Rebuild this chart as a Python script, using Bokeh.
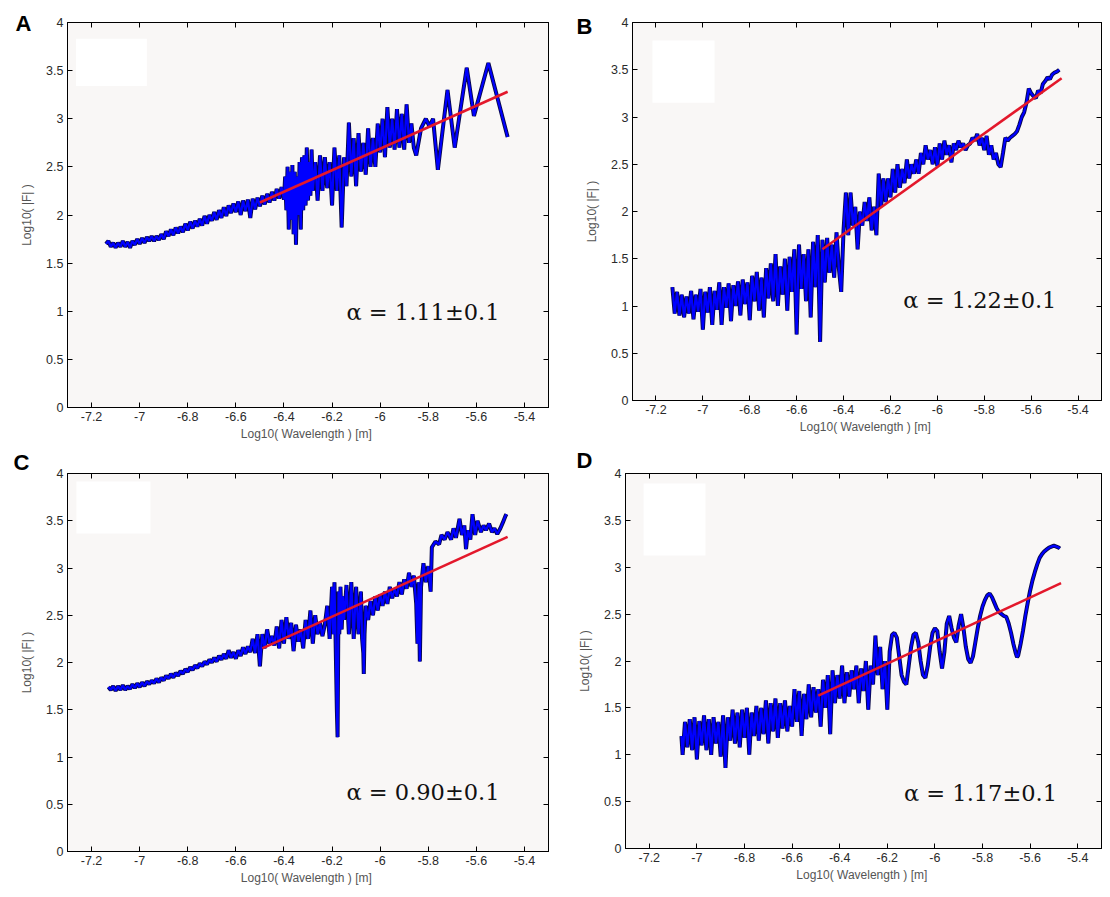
from bokeh.plotting import figure
from bokeh.layouts import column, row
from bokeh.models import FixedTicker, LinearAxis, Label, Range1d, Title, BoxAnnotation
from bokeh.embed import file_html
from bokeh.resources import INLINE

# ---------------- tick labels / texts ----------------
x_ticks = [-7.2, -7.0, -6.8, -6.6, -6.4, -6.2, -6.0, -5.8, -5.6, -5.4]
x_tick_labels = ["-7.2", "-7", "-6.8", "-6.6", "-6.4", "-6.2", "-6", "-5.8", "-5.6", "-5.4"]
y_ticks = [0, 0.5, 1, 1.5, 2, 2.5, 3, 3.5, 4]
y_tick_labels = ["0", "0.5", "1", "1.5", "2", "2.5", "3", "3.5", "4"]
panel_letters = ["A", "B", "C", "D"]
alpha_texts = ["\u03b1 = 1.11\u00b10.1", "\u03b1 = 1.22\u00b10.1", "\u03b1 = 0.90\u00b10.1", "\u03b1 = 1.17\u00b10.1"]
x_label = "Log10( Wavelength )  [m]"
y_label = "Log10( |F| )"

# ---------------- panel A ----------------
a_x = [-7.14, -7.13, -7.12, -7.11, -7.10, -7.09, -7.08, -7.07, -7.06, -7.05,
       -7.04, -7.03, -7.02, -7.01, -7.00, -6.99, -6.98, -6.97, -6.96, -6.95,
       -6.94, -6.93, -6.92, -6.91, -6.90, -6.89, -6.88, -6.87, -6.86, -6.85,
       -6.84, -6.83, -6.82, -6.81, -6.80, -6.79, -6.78, -6.77, -6.76, -6.75,
       -6.74, -6.73, -6.72, -6.71, -6.70, -6.69, -6.68, -6.67, -6.66, -6.65,
       -6.64, -6.63, -6.62, -6.61, -6.60, -6.59, -6.58, -6.57, -6.56, -6.55,
       -6.54, -6.53, -6.52, -6.51, -6.50, -6.49, -6.48, -6.47, -6.46, -6.45,
       -6.44, -6.43, -6.42, -6.41, -6.40,
       -6.395, -6.39, -6.385, -6.38, -6.375, -6.37, -6.365, -6.36, -6.355, -6.35,
       -6.345, -6.34, -6.335, -6.33, -6.325, -6.32, -6.315, -6.31, -6.305, -6.30,
       -6.295, -6.29, -6.285, -6.28,
       -6.27, -6.26, -6.25, -6.24, -6.23, -6.22, -6.21, -6.20, -6.19, -6.18,
       -6.17, -6.16, -6.15, -6.14, -6.13, -6.12, -6.11, -6.10, -6.09, -6.08,
       -6.07, -6.06, -6.05, -6.04, -6.03, -6.02, -6.01, -6.00,
       -5.99, -5.98, -5.97, -5.96, -5.95, -5.94, -5.93, -5.92, -5.91, -5.90,
       -5.89, -5.88, -5.87, -5.86,
       -5.85, -5.83, -5.81, -5.795, -5.78, -5.76, -5.72, -5.69, -5.64, -5.61,
       -5.55, -5.47]
a_y = [1.70, 1.73, 1.67, 1.71, 1.66, 1.71, 1.67, 1.73, 1.67, 1.72,
       1.66, 1.73, 1.69, 1.75, 1.70, 1.76, 1.71, 1.77, 1.73, 1.78,
       1.73, 1.78, 1.74, 1.80, 1.75, 1.83, 1.78, 1.85, 1.79, 1.87,
       1.81, 1.88, 1.82, 1.91, 1.84, 1.93, 1.86, 1.94, 1.88, 1.96,
       1.89, 1.99, 1.91, 2.00, 1.94, 2.03, 1.95, 2.05, 1.97, 2.08,
       1.99, 2.10, 2.02, 2.12, 2.03, 2.14, 2.00, 2.15, 2.04, 2.16,
       1.97, 2.17, 2.06, 2.18, 2.09, 2.20, 2.11, 2.22, 2.13, 2.24,
       2.15, 2.27, 2.17, 2.29, 2.16,
       2.40, 2.05, 2.50, 1.85, 2.45, 1.95, 2.52, 1.80, 2.45, 1.69,
       2.40, 2.00, 2.55, 1.85, 2.60, 2.05, 2.62, 2.10, 2.70, 2.15,
       2.55, 2.20, 2.68, 2.25,
       2.55, 2.15, 2.62, 2.25, 2.60, 2.28, 2.55, 2.10, 2.70, 2.25,
       2.62, 1.87, 2.60, 2.30, 2.96, 2.40, 2.80, 2.30, 2.85, 2.45,
       2.75, 2.42, 2.90, 2.50, 2.80, 2.50, 2.95, 2.65,
       3.00, 2.60, 3.12, 2.70, 3.00, 2.68, 3.10, 2.70, 3.05, 2.68,
       3.15, 2.75, 2.95, 2.70,
       2.62, 2.90, 3.00, 2.92, 3.00, 2.47, 3.30, 2.70, 3.53, 3.03,
       3.58, 2.81]
fit_a_x = [-6.50, -5.47]
fit_a_y = [2.13, 3.28]

# ---------------- panel B ----------------
b_x = [-7.13, -7.12, -7.11, -7.10, -7.09, -7.08, -7.07, -7.06, -7.05, -7.04,
       -7.03, -7.02, -7.01, -7.00, -6.99, -6.98, -6.97, -6.96, -6.95, -6.94,
       -6.93, -6.92, -6.91, -6.90, -6.89, -6.88, -6.87, -6.86, -6.85, -6.84,
       -6.83, -6.82, -6.81, -6.80, -6.79, -6.78, -6.77, -6.76, -6.75, -6.74,
       -6.73, -6.72, -6.71, -6.70, -6.69, -6.68, -6.67, -6.66, -6.65, -6.64,
       -6.63, -6.62, -6.61, -6.60, -6.59, -6.58, -6.57, -6.56, -6.55, -6.54,
       -6.53, -6.52, -6.51, -6.50,
       -6.49, -6.48, -6.47, -6.46, -6.45, -6.44, -6.43, -6.42, -6.41, -6.40,
       -6.39, -6.38, -6.37, -6.36, -6.35, -6.34, -6.33, -6.32, -6.31, -6.30,
       -6.29, -6.28, -6.27, -6.26, -6.25, -6.24, -6.23, -6.22, -6.21, -6.20,
       -6.19, -6.18, -6.17, -6.16, -6.15, -6.14, -6.13, -6.12, -6.11, -6.10,
       -6.09, -6.08, -6.07, -6.06, -6.05, -6.04, -6.03, -6.02, -6.01, -6.00,
       -5.99, -5.98, -5.97, -5.96, -5.95, -5.94, -5.93, -5.92, -5.91, -5.90,
       -5.89, -5.88, -5.87, -5.86, -5.85, -5.84, -5.83, -5.82, -5.81, -5.80,
       -5.79, -5.78, -5.77, -5.76, -5.75, -5.74, -5.73, -5.72, -5.71, -5.70,
       -5.69, -5.68, -5.67, -5.66, -5.65, -5.64, -5.63, -5.62, -5.61, -5.60,
       -5.59, -5.58, -5.57, -5.56, -5.55, -5.54, -5.53, -5.52, -5.51, -5.50,
       -5.49, -5.48]
b_y = [1.20, 0.92, 1.15, 0.90, 1.12, 0.88, 1.10, 0.92, 1.16, 0.86,
       1.12, 0.94, 1.18, 0.75, 1.15, 0.93, 1.20, 0.80, 1.16, 0.96,
       1.25, 0.80, 1.20, 0.98, 1.24, 0.84, 1.22, 1.00, 1.26, 0.90,
       1.28, 1.02, 1.25, 0.85, 1.32, 1.05, 1.36, 0.95, 1.30, 0.88,
       1.40, 1.08, 1.45, 1.05, 1.55, 1.00, 1.42, 1.12, 1.50, 0.95,
       1.52, 1.15, 1.60, 0.70, 1.65, 1.18, 1.55, 1.05, 1.60, 0.88,
       1.68, 1.20, 1.75, 0.62,
       1.70, 1.25, 1.72, 1.35, 1.65, 1.30, 1.78, 1.40, 1.15, 1.80,
       2.20, 1.75, 2.20, 1.85, 2.05, 1.60, 2.00, 1.85, 2.10, 1.90,
       2.15, 1.80, 2.05, 1.75, 2.40, 2.05, 2.35, 2.10, 2.35, 2.15,
       2.45, 2.20, 2.50, 2.25, 2.45, 2.30, 2.55, 2.35, 2.50, 2.40,
       2.55, 2.40, 2.62, 2.50, 2.70, 2.55, 2.65, 2.50, 2.68, 2.48,
       2.72, 2.55, 2.75, 2.60, 2.70, 2.52, 2.72, 2.65, 2.75, 2.68,
       2.72, 2.65, 2.70, 2.72, 2.78, 2.75, 2.82, 2.70, 2.78, 2.65,
       2.80, 2.60, 2.70, 2.55, 2.62, 2.50, 2.47, 2.62, 2.78, 2.75,
       2.78, 2.80, 2.82, 2.85, 2.92, 3.00, 3.05, 3.15, 3.30, 3.25,
       3.22, 3.20, 3.28, 3.25, 3.35, 3.38, 3.42, 3.40, 3.45, 3.47,
       3.48, 3.50]
fit_b_x = [-6.49, -5.47]
fit_b_y = [1.60, 3.41]

# ---------------- panel C ----------------
c_x = [-7.13, -7.12, -7.11, -7.10, -7.09, -7.08, -7.07, -7.06, -7.05, -7.04,
       -7.03, -7.02, -7.01, -7.00, -6.99, -6.98, -6.97, -6.96, -6.95, -6.94,
       -6.93, -6.92, -6.91, -6.90, -6.89, -6.88, -6.87, -6.86, -6.85, -6.84,
       -6.83, -6.82, -6.81, -6.80, -6.79, -6.78, -6.77, -6.76, -6.75, -6.74,
       -6.73, -6.72, -6.71, -6.70, -6.69, -6.68, -6.67, -6.66, -6.65, -6.64,
       -6.63, -6.62, -6.61, -6.60, -6.59, -6.58, -6.57, -6.56, -6.55, -6.54,
       -6.53, -6.52, -6.51, -6.50,
       -6.49, -6.48, -6.47, -6.46, -6.45, -6.44, -6.43, -6.42, -6.41, -6.40,
       -6.39, -6.38, -6.37, -6.36, -6.35, -6.34, -6.33, -6.32, -6.31, -6.30,
       -6.29, -6.28, -6.27, -6.26, -6.25, -6.24,
       -6.23, -6.22, -6.21, -6.20, -6.195, -6.19, -6.185, -6.18, -6.177, -6.173,
       -6.17, -6.165, -6.16, -6.155, -6.15, -6.14, -6.13, -6.12, -6.11, -6.10,
       -6.09, -6.08, -6.075, -6.07, -6.068, -6.065, -6.06, -6.05, -6.04, -6.03,
       -6.02, -6.01, -6.00, -5.99, -5.98, -5.97, -5.96, -5.95, -5.94, -5.93,
       -5.92, -5.91, -5.90, -5.89, -5.88, -5.87, -5.86, -5.85, -5.845, -5.84,
       -5.835, -5.83, -5.82, -5.81, -5.80, -5.79,
       -5.785, -5.77, -5.755, -5.745, -5.732, -5.72, -5.705, -5.695, -5.685, -5.67,
       -5.66, -5.65, -5.643, -5.635, -5.625, -5.616, -5.605, -5.595, -5.581, -5.57,
       -5.56, -5.547, -5.535, -5.525, -5.513, -5.50, -5.49, -5.479, -5.475]
c_y = [1.74, 1.71, 1.75, 1.70, 1.75, 1.71, 1.76, 1.71, 1.75, 1.72,
       1.77, 1.73, 1.78, 1.74, 1.79, 1.75, 1.80, 1.77, 1.81, 1.78,
       1.83, 1.79, 1.84, 1.81, 1.86, 1.83, 1.88, 1.84, 1.89, 1.86,
       1.91, 1.88, 1.93, 1.90, 1.95, 1.92, 1.97, 1.94, 1.99, 1.96,
       2.01, 1.98, 2.03, 2.00, 2.05, 2.01, 2.07, 2.03, 2.09, 2.04,
       2.13, 2.05, 2.11, 2.04, 2.13, 2.07, 2.16, 2.09, 2.17, 2.11,
       2.25, 2.10, 2.30, 1.96,
       2.30, 2.15, 2.35, 2.20, 2.28, 2.18, 2.38, 2.15, 2.45, 2.20,
       2.48, 2.25, 2.42, 2.12, 2.40, 2.22, 2.35, 2.15, 2.45, 2.25,
       2.55, 2.20, 2.50, 2.30, 2.42, 2.28,
       2.40, 2.60, 2.25, 2.80, 2.30, 2.85, 2.20, 1.50, 1.21, 2.75,
       2.30, 2.80, 2.35, 2.70, 2.45, 2.82, 2.30, 2.85, 2.25, 2.80,
       2.30, 2.75, 2.25, 2.10, 1.88, 2.30, 2.60, 2.45, 2.65, 2.50,
       2.70, 2.55, 2.72, 2.60, 2.75, 2.62, 2.80, 2.68, 2.78, 2.70,
       2.85, 2.72, 2.88, 2.78, 2.95, 2.80, 2.92, 2.62, 2.20, 2.85,
       2.01, 2.80, 3.05, 2.85, 3.02, 2.75,
       3.22, 3.28, 3.25, 3.35, 3.30, 3.38, 3.30, 3.42, 3.32, 3.52,
       3.35, 3.45, 3.20, 3.40, 3.30, 3.57, 3.35, 3.50, 3.38, 3.45,
       3.40, 3.47, 3.38, 3.42, 3.36, 3.42, 3.48, 3.55, 3.57]
fit_c_x = [-6.49, -5.47]
fit_c_y = [2.15, 3.33]

# ---------------- panel D ----------------
d_x = [-7.065,
       -7.06, -7.05, -7.04, -7.03, -7.02, -7.01, -7.00, -6.99, -6.98, -6.97,
       -6.96, -6.95, -6.94, -6.93, -6.92, -6.91, -6.90, -6.89, -6.88, -6.87,
       -6.86, -6.85, -6.84, -6.83, -6.82, -6.81, -6.80, -6.79, -6.78, -6.77,
       -6.76, -6.75, -6.74, -6.73, -6.72, -6.71, -6.70, -6.69, -6.68, -6.67,
       -6.66, -6.65, -6.64, -6.63, -6.62, -6.61, -6.60, -6.59, -6.58, -6.57,
       -6.56, -6.55, -6.54, -6.53, -6.52, -6.51, -6.50,
       -6.49, -6.48, -6.47, -6.46, -6.45, -6.44, -6.43, -6.42, -6.41, -6.40,
       -6.39, -6.38, -6.37, -6.36, -6.35, -6.34, -6.33, -6.32, -6.31, -6.30,
       -6.29, -6.28, -6.27, -6.26,
       -6.25, -6.24, -6.23, -6.22, -6.21, -6.20, -6.19, -6.18, -6.17, -6.16,
       -6.15, -6.14, -6.13, -6.12, -6.11, -6.10, -6.09, -6.08, -6.07, -6.06,
       -6.05, -6.04, -6.03, -6.02, -6.01, -6.00, -5.99, -5.98, -5.97, -5.96,
       -5.95, -5.94, -5.93, -5.92, -5.91, -5.90, -5.89, -5.88, -5.87, -5.86,
       -5.85, -5.84, -5.83, -5.82, -5.81, -5.80, -5.79, -5.78, -5.77, -5.76,
       -5.75, -5.74, -5.73, -5.72, -5.71, -5.70, -5.69, -5.68, -5.67, -5.66,
       -5.655, -5.65, -5.64, -5.63, -5.62, -5.61, -5.60, -5.59, -5.58, -5.57,
       -5.56, -5.55, -5.54, -5.53, -5.52, -5.51, -5.50, -5.49, -5.48, -5.475]
d_y = [1.20,
       1.00, 1.35, 1.08, 1.38, 1.05, 1.40, 0.95, 1.36, 1.10, 1.42,
       1.05, 1.38, 1.00, 1.40, 1.12, 1.35, 0.98, 1.42, 0.86, 1.40,
       1.15, 1.48, 1.12, 1.45, 1.08, 1.48, 1.18, 1.50, 1.00, 1.45,
       1.20, 1.52, 1.15, 1.50, 1.22, 1.58, 1.12, 1.55, 1.25, 1.60,
       1.18, 1.55, 1.28, 1.58, 1.25, 1.52, 1.30, 1.70, 1.35, 1.68,
       1.20, 1.65, 1.38, 1.75, 1.40, 1.72, 1.45,
       1.70, 1.30, 1.80, 1.50, 1.85, 1.22, 1.90, 1.55, 1.85, 1.60,
       1.95, 1.55, 1.88, 1.62, 1.90, 1.70, 1.95, 1.55, 1.92, 1.68,
       2.00, 1.48, 1.95, 1.75,
       2.27, 1.85, 2.15, 1.70, 2.00, 1.48, 2.10, 2.28, 2.30, 2.25,
       2.05, 1.85, 1.78, 1.75, 1.95, 2.15, 2.28, 2.30, 2.20, 2.00,
       1.85, 1.82, 1.95, 2.15, 2.30, 2.35, 2.32, 2.10, 1.92, 2.10,
       2.40, 2.48, 2.35, 2.25, 2.20, 2.38, 2.50, 2.35, 2.15, 2.02,
       1.98, 2.05, 2.20, 2.35, 2.48, 2.58, 2.65, 2.70, 2.72, 2.68,
       2.62, 2.56, 2.52, 2.50, 2.48, 2.47, 2.40, 2.30, 2.18, 2.08,
       2.04, 2.06, 2.18, 2.32, 2.48, 2.62, 2.75, 2.86, 2.95, 3.03,
       3.10, 3.14, 3.17, 3.19, 3.21, 3.22, 3.23, 3.22, 3.21, 3.20]
fit_d_x = [-6.49, -5.47]
fit_d_y = [1.63, 2.83]

series = [(a_x, a_y, fit_a_x, fit_a_y), (b_x, b_y, fit_b_x, fit_b_y),
          (c_x, c_y, fit_c_x, fit_c_y), (d_x, d_y, fit_d_x, fit_d_y)]

# layout: frame_w, frame_h, left, right, top, bottom, alpha (x,y)
layouts = [
    (481, 385, 67, 7, 22, 41, (-6.14, 0.99)),
    (469, 378, 77, 1, 20, 50, (-6.145, 1.06)),
    (481, 378, 67, 7, 22, 41, (-6.14, 0.63)),
    (476, 375, 70, 1, 25, 41, (-6.13, 0.59)),
]
# blank (white) patches left in the top-left corner of each frame: left, right, bottom, top
patches = [(-7.265, -6.97, 3.34, 3.83), (-7.215, -6.95, 3.15, 3.81),
           (-7.263, -6.955, 3.365, 3.915), (-7.224, -6.964, 3.125, 3.893)]
# letter placement: A/B beside the frame top, C/D above the frame
letter_axis = {0: (3.99, -20), 1: (3.958, -16)}
letter_title = {2: (-54, -6), 3: (-49, -3)}

FONT = "Liberation Sans"


def style_axis(ax):
    ax.major_tick_in = 5
    ax.major_tick_out = 0
    ax.minor_tick_line_color = None
    ax.axis_line_color = "black"
    ax.major_tick_line_color = "black"
    ax.major_label_text_font = FONT
    ax.major_label_text_font_size = "12.5px"
    ax.major_label_text_color = "#2a2a2a"
    ax.major_label_standoff = 4
    ax.axis_label_text_font = FONT
    ax.axis_label_text_font_size = "12px"
    ax.axis_label_text_font_style = "normal"
    ax.axis_label_text_color = "#555555"


def make_panel(i):
    xs, ys, fx, fy = series[i]
    fw, fh, bl, br, bt, bb, apos = layouts[i]
    p = figure(frame_width=fw, frame_height=fh, min_border_left=bl, min_border_right=br,
               min_border_top=bt, min_border_bottom=bb, output_backend="svg",
               toolbar_location=None, x_range=Range1d(-7.3, -5.3), y_range=Range1d(0, 4))
    p.background_fill_color = "#f9f7f6"
    p.border_fill_color = "white"
    p.outline_line_color = "black"
    p.outline_line_width = 1
    p.xgrid.visible = False
    p.ygrid.visible = False

    xa = p.below[0]
    ya = p.left[0]
    xa.ticker = FixedTicker(ticks=x_ticks)
    ya.ticker = FixedTicker(ticks=y_ticks)
    xa.major_label_overrides = dict(zip(x_ticks, x_tick_labels))
    ya.major_label_overrides = dict(zip(y_ticks, y_tick_labels))
    style_axis(xa)
    style_axis(ya)
    xa.axis_label = x_label
    ya.axis_label = y_label
    xa.axis_label_standoff = 3
    ya.axis_label_standoff = 9

    for loc, tk in (("right", y_ticks), ("above", x_ticks)):
        ax = LinearAxis(ticker=FixedTicker(ticks=tk), major_label_text_font_size="1px",
                        major_label_text_color=None, major_label_text_alpha=0,
                        major_tick_in=5, major_tick_out=0, minor_tick_line_color=None,
                        axis_line_color="black", major_label_standoff=0,
                        axis_label_standoff=0)
        p.add_layout(ax, loc)

    l, r, b, t = patches[i]
    p.add_layout(BoxAnnotation(left=l, right=r, bottom=b, top=t, fill_color="white",
                               fill_alpha=1.0, line_color=None, level="underlay"))

    p.line(xs, ys, line_color="#06064a", line_width=4.0)
    p.line(xs, ys, line_color="#0000ff", line_width=2.2)
    p.line(fx, fy, line_color="#e3182b", line_width=2.6)

    p.add_layout(Label(x=apos[0], y=apos[1], text=alpha_texts[i], text_font="DejaVu Serif",
                       text_font_size="22.5px", text_color="#111111", text_baseline="middle",
                       text_align="left"))

    if i in letter_axis:
        ty, so = letter_axis[i]
        lt = LinearAxis(ticker=FixedTicker(ticks=[ty]),
                        major_label_overrides={ty: panel_letters[i]},
                        major_label_text_font=FONT, major_label_text_font_size="22px",
                        major_label_text_font_style="bold", major_label_text_color="black",
                        axis_line_color=None, major_tick_line_color=None,
                        minor_tick_line_color=None, major_label_standoff=so)
        p.add_layout(lt, "left")
    else:
        off, so = letter_title[i]
        p.add_layout(Title(text=panel_letters[i], align="left", offset=off,
                           standoff=so, vertical_align="top", text_font=FONT,
                           text_font_size="22px", text_font_style="bold",
                           text_color="black"), "above")
    return p


panels = [make_panel(i) for i in range(4)]
layout = column(row(panels[0], panels[1]), row(panels[2], panels[3]))

open("out.html", "w").write(file_html(layout, INLINE))
